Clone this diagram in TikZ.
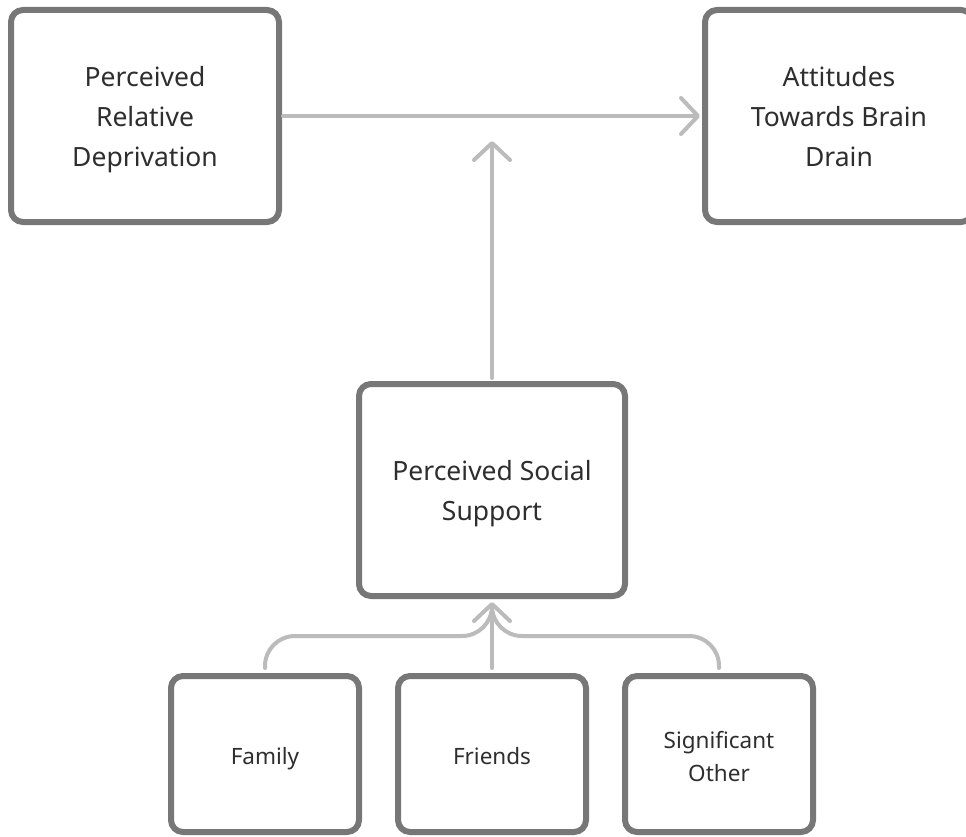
\documentclass[tikz,border=0pt]{standalone}
\usepackage{fontspec}
\setmainfont{Noto Sans}
\usetikzlibrary{arrows.meta}
\definecolor{boxline}{HTML}{777777}
\definecolor{arrowline}{HTML}{BBBBBB}
\definecolor{txt}{HTML}{2E2E2E}
\begin{document}
\begin{tikzpicture}[x=1pt,y=-1pt,
  bigbox/.style={draw=boxline, line width=6pt, rounded corners=12pt, fill=white,
    minimum width=268pt, minimum height=212pt, inner sep=0pt},
  smallbox/.style={draw=boxline, line width=6pt, rounded corners=12pt, fill=white,
    minimum width=188pt, minimum height=156pt, inner sep=0pt},
  biglbl/.style={align=center, text=txt, inner sep=0pt,
    font=\fontsize{26.5}{40}\selectfont},
  smalllbl/.style={align=center, text=txt, inner sep=0pt,
    font=\fontsize{22.5}{33}\selectfont},
  conn/.style={draw=arrowline, line width=4pt, line cap=round, line join=round},
  tip/.style={-{Straight Barb[length=17pt,width=36pt,round]}}]
\useasboundingbox (0,0) rectangle (966,837);
\node[bigbox] (prd) at (145,116) {};
\node[bigbox] (atb) at (839,116) {};
\node[bigbox, minimum width=266pt] (pss) at (492,490) {};
\node[smallbox] (fam) at (265,754) {};
\node[smallbox] (fri) at (492,754) {};
\node[smallbox] (sig) at (719,754) {};
\node[biglbl] (prdt) at ([yshift=-4pt]prd.center) {Perceived\\Relative\\Deprivation};
\node[biglbl] (atbt) at ([yshift=-1pt]atb.center) {Attitudes\\Towards Brain\\Drain};
\node[biglbl] (psst) at ([yshift=-4pt]pss.center) {Perceived Social\\Support};
\node[smalllbl] (famt) at ([yshift=-5pt]fam.center) {Family};
\node[smalllbl] (frit) at ([yshift=-2pt]fri.center) {Friends};
\node[smalllbl] (sigt) at ([yshift=-2pt]sig.center) {Significant\\Other};
\coordinate (midtop) at (492,141);
\draw[conn, tip, shorten <=1pt, shorten >=2pt] (prd.east) -- (atb.west);
\draw[conn, tip, shorten <=3pt] (pss.north) -- (midtop);
\coordinate (junc) at (492,636);
\coordinate (famc) at (265,636);
\coordinate (sigc) at (719,636);
\coordinate (pssin) at (492,605);
\draw[conn, rounded corners=30pt, shorten <=5pt] (fam.north) -- (famc) -- (junc) -- (pssin);
\draw[conn, rounded corners=30pt, shorten <=5pt] (sig.north) -- (sigc) -- (junc) -- (pssin);
\draw[conn, tip, shorten <=5pt, shorten >=3pt] (fri.north) -- (pss.south);
\end{tikzpicture}
\end{document}
